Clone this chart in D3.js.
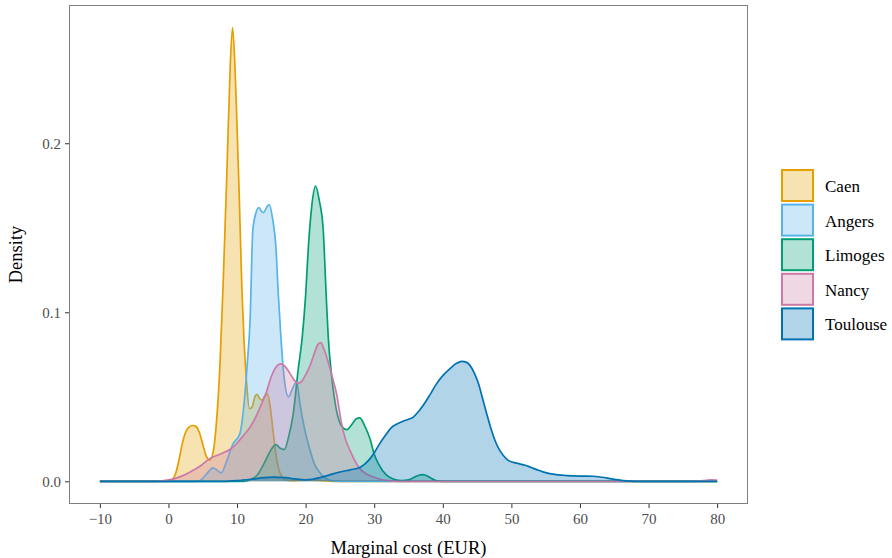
<!DOCTYPE html>
<html><head><meta charset="utf-8">
<script src="https://cdn.jsdelivr.net/npm/d3@7"></script>
<style>body{margin:0;background:#fff}svg{display:block}</style>
</head><body>
<script>
// ---- data ----
const categories = ["Caen", "Angers", "Limoges", "Nancy", "Toulouse"];
const colors = ["#E69F00", "#56B4E9", "#009E73", "#CC79A7", "#0072B2"];
const xTicks = [-10, 0, 10, 20, 30, 40, 50, 60, 70, 80];
const yTicks = [0.0, 0.1, 0.2];

const caen = [[-10,0],[0,0],[0.5,0.001],[1,0.004],[1.5,0.012],[2,0.022],[2.5,0.029],[3,0.032],[3.5,0.033],[4,0.0325],[4.5,0.029],[5,0.022],[5.5,0.015],[6,0.0125],[6.5,0.017],[7,0.035],[7.5,0.068],[8,0.12],[8.5,0.18],[9,0.245],[9.35,0.2685],[9.7,0.245],[10,0.21],[10.3,0.172],[10.7,0.115],[11,0.085],[11.4,0.058],[11.8,0.043],[12.2,0.044],[12.6,0.05],[12.9,0.0515],[13.3,0.049],[13.6,0.048],[14,0.05],[14.4,0.052],[14.8,0.045],[15.3,0.028],[15.7,0.015],[16,0.0085],[16.5,0.003],[17,0.001],[18,0.0004],[20,0.0008],[22,0.0006],[24,0],[80,0]];
const angers = [[-10,0],[4,0],[4.6,0.0005],[5.5,0.004],[6.5,0.0079],[7.1,0.0065],[7.7,0.005],[8.5,0.012],[9.4,0.022],[10.4,0.028],[11,0.045],[11.5,0.07],[11.9,0.095],[12.3,0.1485],[12.7,0.158],[13.2,0.162],[13.6,0.1595],[13.9,0.159],[14.3,0.162],[14.7,0.1637],[15.2,0.155],[15.67,0.1386],[16,0.112],[16.4,0.085],[16.9,0.06],[17.5,0.05],[18.1,0.055],[18.7,0.0588],[19.2,0.045],[19.9,0.03],[20.6,0.019],[21.3,0.01],[22,0.0055],[22.8,0.002],[24,0.0003],[26,0],[80,0]];
const limoges = [[-10,0],[11,0],[12,0.001],[13,0.004],[14,0.011],[15,0.019],[15.67,0.0217],[16.3,0.0195],[16.9,0.0188],[17.5,0.026],[18.2,0.04],[18.9,0.0657],[19.5,0.085],[20,0.11],[20.4,0.1386],[20.9,0.163],[21.45,0.1746],[22,0.166],[22.57,0.1485],[23,0.11],[23.3,0.0854],[23.8,0.062],[24.5,0.042],[25.2,0.033],[26,0.0306],[26.8,0.034],[27.4,0.037],[27.9,0.0375],[28.6,0.033],[29.4,0.025],[30,0.016],[30.6,0.0105],[31.8,0.0036],[33,0.001],[34,0.0004],[35,0.0008],[36.3,0.0033],[37.15,0.004],[38,0.0025],[39,0.0005],[40,0],[80,0]];
const nancy = [[-10,0],[-2,0],[-1,0.0003],[0,0.0008],[0.9,0.0016],[2.2,0.0035],[3.6,0.0065],[4.8,0.0095],[6,0.0134],[7.5,0.016],[9,0.019],[10,0.0225],[10.9,0.027],[11.9,0.032],[12.85,0.039],[13.6,0.046],[14.3,0.053],[15,0.062],[15.5,0.0665],[16,0.069],[16.4,0.0695],[17,0.068],[17.7,0.064],[18.3,0.06],[18.9,0.058],[19.4,0.059],[20,0.063],[20.6,0.068],[21.3,0.076],[21.8,0.081],[22.2,0.082],[22.7,0.078],[23.5,0.0676],[24,0.06],[24.5,0.052],[25.25,0.034],[25.8,0.025],[26.5,0.018],[27.2,0.012],[27.9,0.0075],[28.8,0.0045],[29.9,0.0025],[31,0.001],[32,0.0004],[34,0],[77,0],[78,0.0004],[79,0.0009],[80,0.0007]];
const toulouse = [[-10,0],[8,0],[10,0.0004],[12,0.0012],[14,0.0022],[15.3,0.0025],[17,0.0022],[18.5,0.0014],[20,0.0009],[21,0.0012],[22.1,0.0022],[23.5,0.0038],[25,0.0055],[26.5,0.0068],[27.9,0.0082],[28.7,0.0105],[29.4,0.0134],[30.1,0.0175],[30.8,0.0223],[31.6,0.027],[32.5,0.0318],[33.4,0.034],[34.2,0.0355],[35,0.0367],[35.7,0.038],[36.4,0.041],[37.15,0.045],[38.1,0.051],[39.1,0.0578],[40,0.0625],[41.05,0.0667],[42,0.0698],[42.75,0.071],[43.4,0.0705],[43.96,0.0686],[44.6,0.064],[45.2,0.0578],[45.8,0.049],[46.4,0.04],[47,0.0315],[47.6,0.0243],[48.2,0.019],[48.8,0.0154],[49.5,0.0125],[50.3,0.0112],[51.2,0.0103],[52,0.0095],[52.8,0.0083],[53.7,0.0069],[54.6,0.0056],[55.6,0.0045],[56.8,0.0038],[58.1,0.0034],[60,0.0031],[61.9,0.003],[63.2,0.0024],[64.4,0.0016],[65.6,0.0008],[66.8,0.0002],[68,0],[80,0]];
const seriesData = [caen, angers, limoges, nancy, toulouse];

// ---- layout ----
const W = 892, H = 558;
const panel = {left: 69, right: 748, top: 5, bottom: 504};
const svg = d3.select("body").append("svg").attr("width", W).attr("height", H);

const x = d3.scaleLinear().domain([-14.5, 84.5]).range([panel.left, panel.right]);
const y = d3.scaleLinear().domain([-0.01343, 0.2818]).range([panel.bottom, panel.top]);

const font = "'Liberation Serif', 'Times New Roman', serif";

// densities
const area = d3.area().x(d => x(d[0])).y0(y(0)).y1(d => y(d[1])).curve(d3.curveMonotoneX);
const line = d3.line().x(d => x(d[0])).y(d => y(d[1])).curve(d3.curveMonotoneX);

const g = svg.append("g");
seriesData.forEach((s, i) => {
  g.append("path").attr("d", area(s)).attr("fill", colors[i]).attr("fill-opacity", 0.3);
  g.append("path").attr("d", line(s)).attr("fill", "none").attr("stroke", colors[i]).attr("stroke-width", 1.7).attr("stroke-linejoin", "round");
});

// panel border
svg.append("rect").attr("x", panel.left + 0.5).attr("y", panel.top + 0.5)
  .attr("width", panel.right - panel.left - 1).attr("height", panel.bottom - panel.top - 1)
  .attr("fill", "none").attr("stroke", "#7f7f7f").attr("stroke-width", 1);

// axes
const xAxis = svg.append("g").attr("transform", `translate(0,${panel.bottom})`)
  .call(d3.axisBottom(x).tickValues(xTicks).tickSize(4).tickPadding(5).tickFormat(d3.format("d")));
const yAxis = svg.append("g").attr("transform", `translate(${panel.left},0)`)
  .call(d3.axisLeft(y).tickValues(yTicks).tickSize(4).tickPadding(4).tickFormat(d3.format(".1f")));
[xAxis, yAxis].forEach(a => {
  a.select(".domain").remove();
  a.selectAll(".tick line").attr("stroke", "#333").attr("stroke-width", 1);
  a.selectAll(".tick text").attr("fill", "#4d4d4d").style("font-family", font).style("font-size", "15px");
});

// axis titles
svg.append("text").attr("x", (panel.left + panel.right) / 2).attr("y", 554)
  .attr("text-anchor", "middle").style("font-family", font).style("font-size", "18.5px").attr("fill", "#000")
  .text("Marginal cost (EUR)");
svg.append("text").attr("transform", `translate(22,${(panel.top + panel.bottom) / 2}) rotate(-90)`)
  .attr("text-anchor", "middle").style("font-family", font).style("font-size", "18.5px").attr("fill", "#000")
  .text("Density");

// legend
const leg = svg.append("g").attr("transform", "translate(781,169)");
categories.forEach((c, i) => {
  const row = leg.append("g").attr("transform", `translate(0,${i * 34.6})`);
  row.append("rect").attr("x", 1).attr("y", 1).attr("width", 31).attr("height", 31)
    .attr("fill", colors[i]).attr("fill-opacity", 0.3).attr("stroke", colors[i]).attr("stroke-width", 2);
  row.append("text").attr("x", 44).attr("y", 17).attr("dy", "0.35em")
    .style("font-family", font).style("font-size", "17px").attr("fill", "#000").text(c);
});
</script>
</body></html>
